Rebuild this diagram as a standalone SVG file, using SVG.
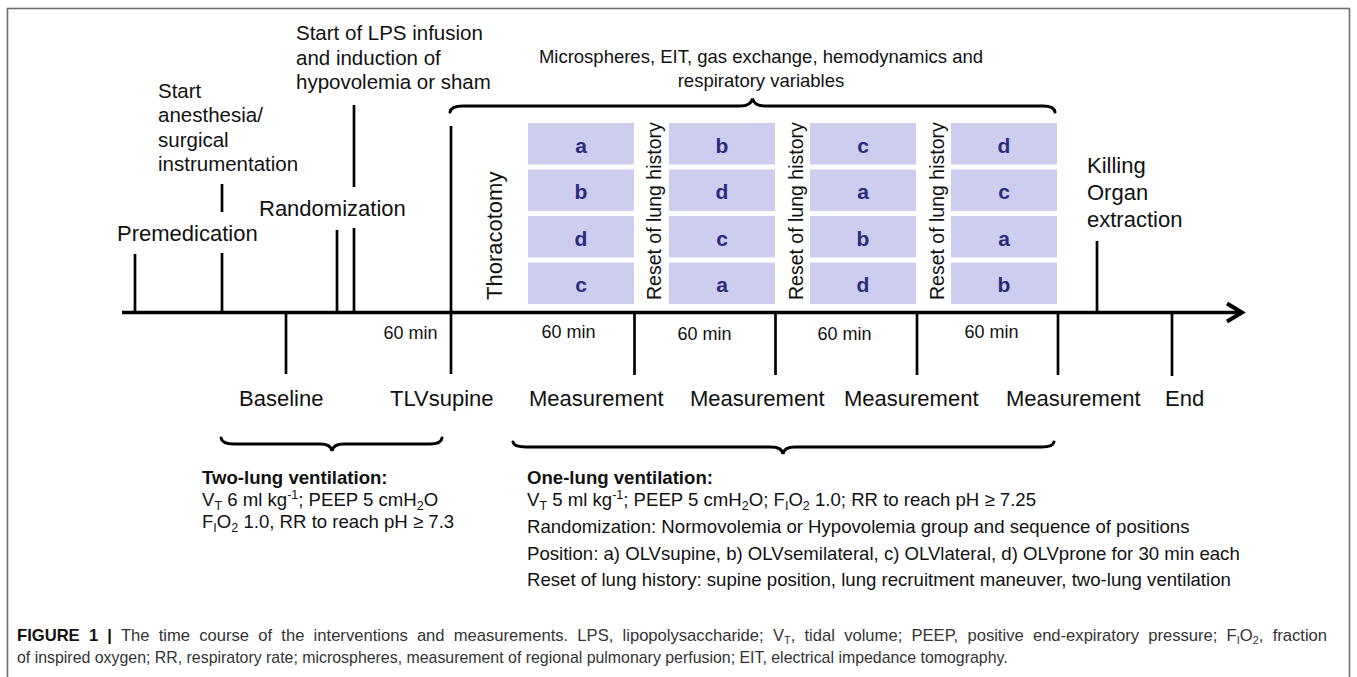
<svg xmlns="http://www.w3.org/2000/svg" width="1357" height="677" viewBox="0 0 1357 677">
<style>
text{font-family:"Liberation Sans",Arial,sans-serif;fill:#111}
.t205{font-size:20.5px}
.t22{font-size:22px}
.t18{font-size:18.5px}
.min{font-size:18px;text-anchor:middle}
.lab{font-size:22px}
.rot{font-size:19.5px}
.box rect{fill:#cdcdef}
.box text{font-size:21px;font-weight:bold;fill:#2b2b7d;text-anchor:middle}
.tick{stroke:#000;stroke-width:2.7;fill:none}
.brace{stroke:#000;stroke-width:3;fill:none;stroke-linecap:round}
.note{font-size:18.6px}
.cap{fill:#333}
</style>
<defs>
<marker id="arrow" markerUnits="userSpaceOnUse" markerWidth="24" markerHeight="24" refX="18" refY="12" orient="auto" viewBox="0 0 24 24">
<path d="M3,3 L18,12 L3,21" fill="none" stroke="#000" stroke-width="4"/>
</marker>
</defs>
<rect x="7.5" y="8.5" width="1342" height="700" fill="#fff" stroke="#6e6e6e" stroke-width="1.6"/>

<g id="connectors">
<line x1="122" y1="312.5" x2="1242" y2="312.5" stroke="#000" stroke-width="3.5" marker-end="url(#arrow)"/>
<line class="tick" x1="135" y1="254" x2="135" y2="312"/>
<line class="tick" x1="222" y1="253" x2="222" y2="312"/>
<line class="tick" x1="222" y1="184" x2="222" y2="212"/>
<line class="tick" x1="337" y1="230" x2="337" y2="312"/>
<line class="tick" x1="354" y1="228" x2="354" y2="312"/>
<line class="tick" x1="354" y1="105" x2="354" y2="187"/>
<line class="tick" x1="451" y1="126" x2="451" y2="374"/>
<line class="tick" x1="1097" y1="241" x2="1097" y2="312"/>
<line class="tick" x1="286" y1="312" x2="286" y2="374"/>
<line class="tick" x1="634.5" y1="312" x2="634.5" y2="375"/>
<line class="tick" x1="775.5" y1="312" x2="775.5" y2="375"/>
<line class="tick" x1="917" y1="312" x2="917" y2="375"/>
<line class="tick" x1="1058" y1="312" x2="1058" y2="375"/>
<line class="tick" x1="1172" y1="312" x2="1172" y2="376"/>
<path class="brace" d="M450,112 Q451,106 463,106 L740,106 Q751,106 752.5,98.5 Q754,106 765,106 L1043,106 Q1054,106 1055,112"/>
<path class="brace" d="M221,438 Q222,444 234,444 L320,444 Q331,444 332,451 Q333,444 344,444 L430,444 Q441,444 442,438"/>
<path class="brace" d="M513,442 Q514,447 526,447 L771,447 Q782,447 783,454 Q784,447 795,447 L1042,447 Q1053,447 1054,442"/>
</g>

<g id="premedication"><text class="t22" x="117" y="241">Premedication</text></g>
<g id="start-anesthesia">
<text class="t205" x="158" y="97.5">Start</text>
<text class="t205" x="158" y="122">anesthesia/</text>
<text class="t205" x="158" y="146.5">surgical</text>
<text class="t205" x="158" y="171">instrumentation</text>
</g>
<g id="randomization"><text class="t22" x="259" y="216">Randomization</text></g>
<g id="lps">
<text class="t205" x="296" y="40">Start of LPS infusion</text>
<text class="t205" x="296" y="64.5">and induction of</text>
<text class="t205" x="296" y="89">hypovolemia or sham</text>
</g>
<g id="variables">
<text class="t18" x="761" y="63" text-anchor="middle">Microspheres, EIT, gas exchange, hemodynamics and</text>
<text class="t18" x="761" y="86.5" text-anchor="middle">respiratory variables</text>
</g>
<g id="thoracotomy"><text x="0" y="0" transform="translate(502,300) rotate(-90)" style="font-size:22px">Thoracotomy</text></g>
<g id="reset1"><text class="rot" transform="translate(661,300) rotate(-90)">Reset of lung history</text></g>
<g id="reset2"><text class="rot" transform="translate(803,300) rotate(-90)">Reset of lung history</text></g>
<g id="reset3"><text class="rot" transform="translate(944,300) rotate(-90)">Reset of lung history</text></g>

<g id="period1" class="box">
<rect x="528" y="123" width="106" height="41.5"/><text x="581" y="152.5">a</text>
<rect x="528" y="169.5" width="106" height="41.5"/><text x="581" y="199">b</text>
<rect x="528" y="216" width="106" height="41.5"/><text x="581" y="245.5">d</text>
<rect x="528" y="262.5" width="106" height="41.5"/><text x="581" y="292">c</text>
</g>
<g id="period2" class="box">
<rect x="669" y="123" width="106" height="41.5"/><text x="722" y="152.5">b</text>
<rect x="669" y="169.5" width="106" height="41.5"/><text x="722" y="199">d</text>
<rect x="669" y="216" width="106" height="41.5"/><text x="722" y="245.5">c</text>
<rect x="669" y="262.5" width="106" height="41.5"/><text x="722" y="292">a</text>
</g>
<g id="period3" class="box">
<rect x="810" y="123" width="106" height="41.5"/><text x="863" y="152.5">c</text>
<rect x="810" y="169.5" width="106" height="41.5"/><text x="863" y="199">a</text>
<rect x="810" y="216" width="106" height="41.5"/><text x="863" y="245.5">b</text>
<rect x="810" y="262.5" width="106" height="41.5"/><text x="863" y="292">d</text>
</g>
<g id="period4" class="box">
<rect x="951" y="123" width="106" height="41.5"/><text x="1004" y="152.5">d</text>
<rect x="951" y="169.5" width="106" height="41.5"/><text x="1004" y="199">c</text>
<rect x="951" y="216" width="106" height="41.5"/><text x="1004" y="245.5">a</text>
<rect x="951" y="262.5" width="106" height="41.5"/><text x="1004" y="292">b</text>
</g>
<g id="killing">
<text class="t22" x="1087" y="173">Killing</text>
<text class="t22" x="1087" y="200">Organ</text>
<text class="t22" x="1087" y="227">extraction</text>
</g>

<g id="durations">
<text class="min" x="410.5" y="339">60 min</text>
<text class="min" x="568.5" y="338">60 min</text>
<text class="min" x="704.5" y="340">60 min</text>
<text class="min" x="844.5" y="340">60 min</text>
<text class="min" x="991.5" y="338">60 min</text>
</g>

<g id="baseline"><text class="lab" x="239" y="406">Baseline</text></g>
<g id="tlvsupine"><text class="lab" x="390" y="406">TLVsupine</text></g>
<g id="measurement1"><text class="lab" x="529" y="406">Measurement</text></g>
<g id="measurement2"><text class="lab" x="690" y="406">Measurement</text></g>
<g id="measurement3"><text class="lab" x="844" y="406">Measurement</text></g>
<g id="measurement4"><text class="lab" x="1006" y="406">Measurement</text></g>
<g id="end"><text class="lab" x="1165" y="406">End</text></g>

<g id="two-lung">
<text class="note" x="202" y="484" font-weight="bold">Two-lung ventilation:</text>
<text class="note" x="202" y="506">V<tspan font-size="12.5" dy="4">T</tspan><tspan dy="-4"> 6 ml kg</tspan><tspan font-size="12.5" dy="-7">-1</tspan><tspan dy="7">; PEEP 5 cmH</tspan><tspan font-size="12.5" dy="4">2</tspan><tspan dy="-4">O</tspan></text>
<text class="note" x="202" y="528">F<tspan font-size="12.5" dy="4">I</tspan><tspan dy="-4">O</tspan><tspan font-size="12.5" dy="4">2</tspan><tspan dy="-4"> 1.0, RR to reach pH ≥ 7.3</tspan></text>
</g>
<g id="one-lung">
<text class="note" x="527" y="484" font-weight="bold">One-lung ventilation:</text>
<text class="note" x="527" y="506">V<tspan font-size="12.5" dy="4">T</tspan><tspan dy="-4"> 5 ml kg</tspan><tspan font-size="12.5" dy="-7">-1</tspan><tspan dy="7">; PEEP 5 cmH</tspan><tspan font-size="12.5" dy="4">2</tspan><tspan dy="-4">O; F</tspan><tspan font-size="12.5" dy="4">I</tspan><tspan dy="-4">O</tspan><tspan font-size="12.5" dy="4">2</tspan><tspan dy="-4"> 1.0; RR to reach pH ≥ 7.25</tspan></text>
<text class="note" x="527" y="533">Randomization: Normovolemia or Hypovolemia group and sequence of positions</text>
<text class="note" x="527" y="559.5">Position: a) OLVsupine, b) OLVsemilateral, c) OLVlateral, d) OLVprone for 30 min each</text>
<text class="note" x="527" y="586">Reset of lung history: supine position, lung recruitment maneuver, two-lung ventilation</text>
</g>

<g id="caption">
<text class="cap" x="17" y="641" font-size="16.6" word-spacing="4.6"><tspan font-weight="bold" fill="#111">FIGURE 1 |</tspan> The time course of the interventions and measurements. LPS, lipopolysaccharide; V<tspan font-size="11" dy="3">T</tspan><tspan dy="-3">, tidal volume; PEEP, positive end-expiratory pressure; F</tspan><tspan font-size="11" dy="3">I</tspan><tspan dy="-3">O</tspan><tspan font-size="11" dy="3">2</tspan><tspan dy="-3">, fraction</tspan></text>
<text class="cap" x="17" y="663" font-size="15.9">of inspired oxygen; RR, respiratory rate; microspheres, measurement of regional pulmonary perfusion; EIT, electrical impedance tomography.</text>
</g>
</svg>
